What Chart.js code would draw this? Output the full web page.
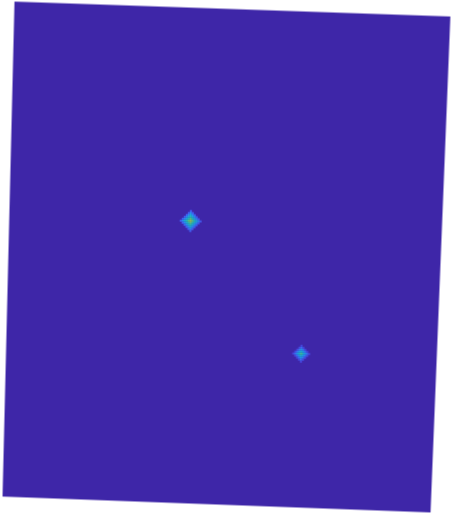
<!DOCTYPE html>
<html>
<head>
<meta charset="utf-8">
<script src="https://cdn.jsdelivr.net/npm/chart.js@4"></script>
<style>
  html, body { margin: 0; padding: 0; background: #ffffff; overflow: hidden; }
  #wrap {
    position: absolute; left: 0; top: 0;
    width: 435px; height: 499px;
    transform-origin: 0 0;
  }
</style>
</head>
<body>
<div id="wrap"><canvas id="c"></canvas></div>
<script>
// Grid size (cells)
const gridCols = 218;
const gridRows = 250;

// Hot spot 1: centre cell and values (rows top->bottom, cols left->right)
const blob1Center = [91, 106];
const blob1Values = [
  [0,   0,   0,   0,   0,   .16, 0,   0,   0,   0,   0  ],
  [0,   0,   0,   0,   .16, .29, .16, 0,   0,   0,   0  ],
  [0,   0,   0,   .16, .29, .41, .29, .16, 0,   0,   0  ],
  [0,   0,   .16, .29, .41, .51, .41, .29, .16, 0,   0  ],
  [0,   .16, .29, .41, .51, .61, .51, .41, .29, .16, 0  ],
  [.16, .29, .41, .51, .61, .70, .61, .51, .41, .29, .16],
  [0,   .16, .29, .41, .51, .61, .51, .41, .29, .16, 0  ],
  [0,   0,   .16, .29, .41, .51, .41, .29, .16, 0,   0  ],
  [0,   0,   0,   .16, .29, .41, .29, .16, 0,   0,   0  ],
  [0,   0,   0,   0,   .16, .29, .16, 0,   0,   0,   0  ],
  [0,   0,   0,   0,   0,   .16, 0,   0,   0,   0,   0  ]
];

// Hot spot 2
const blob2Center = [149, 171];
const blob2Values = [
  [0,   0,   0,   0,   .10, 0,   0,   0,   0  ],
  [0,   0,   0,   .10, .23, .10, 0,   0,   0  ],
  [0,   0,   .10, .23, .35, .23, .10, 0,   0  ],
  [0,   .10, .23, .35, .46, .35, .23, .10, 0  ],
  [.10, .23, .35, .46, .56, .46, .35, .23, .10],
  [0,   .10, .23, .35, .46, .35, .23, .10, 0  ],
  [0,   0,   .10, .23, .35, .23, .10, 0,   0  ],
  [0,   0,   0,   .10, .23, .10, 0,   0,   0  ],
  [0,   0,   0,   0,   .10, 0,   0,   0,   0  ]
];

// parula-like colormap stops
const cmapStops = [
  [0.000, [62, 38, 168]],
  [0.125, [72, 80, 238]],
  [0.250, [50, 128, 246]],
  [0.375, [22, 166, 226]],
  [0.500, [30, 188, 180]],
  [0.625, [100, 200, 112]],
  [0.750, [190, 190, 56]],
  [0.875, [250, 196, 58]],
  [1.000, [249, 251, 14]]
];
function cmap(v) {
  v = Math.max(0, Math.min(1, v));
  for (let i = 1; i < cmapStops.length; i++) {
    const [t1, c1] = cmapStops[i];
    const [t0, c0] = cmapStops[i - 1];
    if (v <= t1) {
      const f = (v - t0) / (t1 - t0);
      const c = c0.map((a, k) => Math.round(a + (c1[k] - a) * f));
      return `rgb(${c[0]},${c[1]},${c[2]})`;
    }
  }
  return 'rgb(249,251,14)';
}

// place the (slightly tilted) picture: corner positions on the page
(function placeWrap() {
  const W = 435, H = 499;
  const q = [[13, 0], [452, 15], [432, 514], [1, 498]]; // TL, TR, BR, BL
  const [x0, y0] = q[0], [x1, y1] = q[1], [x2, y2] = q[2], [x3, y3] = q[3];
  const dx1 = x1 - x2, dx2 = x3 - x2, dx3 = x0 - x1 + x2 - x3;
  const dy1 = y1 - y2, dy2 = y3 - y2, dy3 = y0 - y1 + y2 - y3;
  const den = dx1 * dy2 - dx2 * dy1;
  const g = (dx3 * dy2 - dx2 * dy3) / den;
  const h = (dx1 * dy3 - dx3 * dy1) / den;
  const a = x1 - x0 + g * x1, b = x3 - x0 + h * x3, c = x0;
  const d = y1 - y0 + g * y1, e = y3 - y0 + h * y3, f = y0;
  const m = [a / W, d / W, 0, g / W, b / H, e / H, 0, h / H, 0, 0, 1, 0, c, f, 0, 1];
  document.getElementById('wrap').style.transform = 'matrix3d(' + m.join(',') + ')';
})();

function cellsFrom(center, values) {
  const out = [];
  const h = Math.floor(values.length / 2);
  const w = Math.floor(values[0].length / 2);
  values.forEach((row, r) => row.forEach((v, c) => {
    if (v > 0) out.push({ x: center[0] + c - w, y: center[1] + r - h, v });
  }));
  return out;
}
const cells = cellsFrom(blob1Center, blob1Values).concat(cellsFrom(blob2Center, blob2Values));

const bgPlugin = {
  id: 'heatBg',
  beforeDatasetsDraw(chart) {
    const { ctx, chartArea: a } = chart;
    ctx.save();
    ctx.fillStyle = cmap(0);
    ctx.fillRect(a.left, a.top, a.right - a.left, a.bottom - a.top);
    ctx.restore();
  }
};

function cellRadius(ctx) {
  const xs = ctx.chart.scales.x;
  const cw = Math.abs(xs.getPixelForValue(1) - xs.getPixelForValue(0));
  return cw * 0.74;
}

new Chart(document.getElementById('c'), {
  type: 'scatter',
  data: {
    datasets: [{
      data: cells,
      pointStyle: 'rect',
      pointRadius: cellRadius,
      pointHoverRadius: cellRadius,
      borderWidth: 0,
      backgroundColor: (ctx) => cmap(ctx.raw ? ctx.raw.v : 0),
      borderColor: (ctx) => cmap(ctx.raw ? ctx.raw.v : 0)
    }]
  },
  options: {
    responsive: true,
    maintainAspectRatio: false,
    animation: false,
    layout: { padding: 0 },
    plugins: { legend: { display: false }, tooltip: { enabled: false } },
    scales: {
      x: { type: 'linear', display: false, min: -0.5, max: gridCols - 0.5 },
      y: { type: 'linear', display: false, reverse: true, min: -0.5, max: gridRows - 0.5 }
    }
  },
  plugins: [bgPlugin]
});
</script>
</body>
</html>
